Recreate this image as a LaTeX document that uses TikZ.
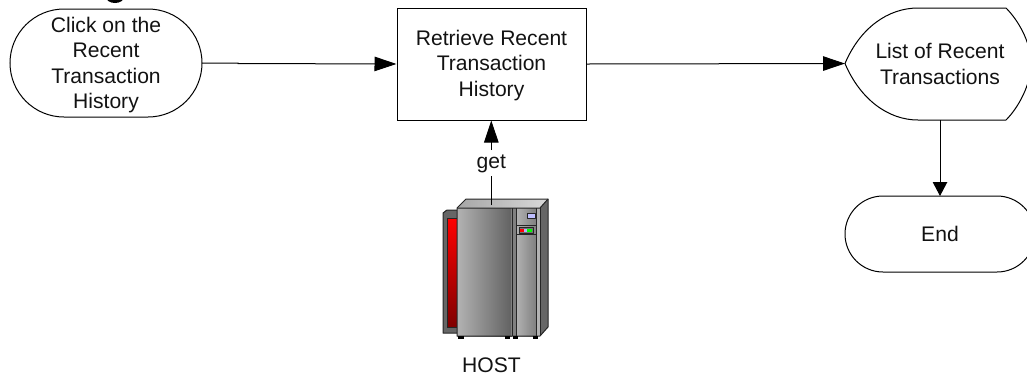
\documentclass[tikz,border=0pt]{standalone}
\usepackage{fontspec}
\setmainfont{Liberation Sans}
\usetikzlibrary{arrows.meta}
\definecolor{ink}{gray}{0.07}
\tikzset{
  x=1pt,y=-1pt,
  lbl/.style={inner sep=0pt,align=center,font=\fontsize{21.1}{25.6}\selectfont,text=ink},
  flow/.style={draw=black,line width=1pt},
  conn/.style={draw=black,line width=1pt,-{Triangle[length=22pt,width=14.5pt]}},
  conns/.style={draw=black,line width=1pt,-{Triangle[length=14pt,width=14.5pt]}},
  edgeln/.style={draw=black!85,line width=1pt,line join=round},
}
\begin{document}
\begin{tikzpicture}
\useasboundingbox (0,0) rectangle (1027,376);
\begin{scope}
\clip (0,0) rectangle (1027,376);
% clipped remnant at the top edge
\fill[black] (115,-3) ellipse[x radius=9pt,y radius=6pt];
% start
\draw[flow] (64,9) -- (148,9) arc[start angle=90,end angle=-90,radius=54pt] -- (64,117) arc[start angle=270,end angle=90,radius=54pt] -- cycle;
\coordinate (s) at (202,63);
\node[lbl] (t1) at (106,65) {Click on the\\Recent\\Transaction\\History};
% process
\node[draw=black,line width=1pt,minimum width=189pt,minimum height=112pt,inner sep=0pt] (p) at (491.5,64) {};
\node[lbl] (t2) at (491.5,65.5) {Retrieve Recent\\Transaction\\History};
% display
\draw[flow] (845,63.5) .. controls (860,28) and (888,8) .. (918,8) -- (1006,8) .. controls (1018,20) and (1031,42) .. (1031,63.5) .. controls (1031,85) and (1018,108) .. (1006,120) -- (918,120) .. controls (888,120) and (860,99) .. (845,63.5) -- cycle;
\coordinate (d) at (845,63.5);
\coordinate (db) at (940,120);
\node[lbl] (t3) at (940,64) {List of Recent\\Transactions};
% end
\draw[flow] (883,196) -- (997,196) arc[start angle=90,end angle=-90,radius=38pt] -- (883,272) arc[start angle=270,end angle=90,radius=38pt] -- cycle;
\coordinate (e) at (940,196);
\node[lbl] (t4) at (940,233.5) {End};
% connectors
\draw[conn] (s) -- (238,63) -- (238,63.5) -- (p.west);
\draw[conn] (p.east) -- (d);
\draw[conns] (db) -- (e);
% server body
\fill[black!60] (443,213) -- (446,210) -- (458,210) -- (458,333) -- (443,333) -- cycle;
\shade[top color=red,bottom color=red!50!black] (447,218) rectangle (458,327);
\draw[edgeln] (458,333) -- (443,333) -- (443,213) -- (447,210) -- (458,210);
\draw[edgeln] (458,327) -- (447,327) -- (447,218) -- (458,218);
\shade[left color=black!35,right color=black!15] (457,208) -- (466,199) -- (548,199) -- (540,208) -- cycle;
\fill[black!60] (540,208) -- (548,199) -- (548,327) -- (540,336) -- cycle;
\shade[left color=black!30,right color=black!62] (457,208) rectangle (512,336);
\fill[black!50] (511,208) rectangle (517,336);
\shade[left color=black!30,right color=black!50] (516,208) rectangle (536,336);
\fill[black!30] (536,208) rectangle (540,336);
\draw[edgeln] (457,208) -- (466,199) -- (548,199) -- (548,327) -- (540,336) -- (457,336) -- cycle;
\draw[edgeln] (457,208) -- (540,208) -- (548,199);
\foreach \xx in {512,516,536,540} {\draw[edgeln] (\xx,208) -- (\xx,336);}
\draw[edgeln,fill=blue!25] (527,213) rectangle (535,218);
\draw[edgeln] (516,225) -- (536,225);
\draw[edgeln] (516,234) -- (536,234);
\draw[edgeln,fill=black!55] (519,227) rectangle (533,233);
\fill[red] (520,229) rectangle (524,231.5);
\fill[blue!30] (524,229) rectangle (527,231.5);
\fill[green] (527,229) rectangle (532,231.5);
\fill[black] (458,336) rectangle (464,338.5);
\fill[black] (505,336) rectangle (510,338.5);
\fill[black] (513,336) rectangle (518,338.5);
\fill[black] (533,336) rectangle (538,338.5);
% get link
\coordinate (hosttop) at (491.3,205);
\coordinate (getlow) at (491.3,176);
\coordinate (getup) at (491.3,150);
\draw[flow] (hosttop) -- (getlow);
\draw[conn] (getup) -- (p.south -| getup);
\node[lbl] (get) at (491.3,164) {get};
\node[lbl] (host) at (491.5,365) {HOST};
\end{scope}
\end{tikzpicture}
\end{document}
